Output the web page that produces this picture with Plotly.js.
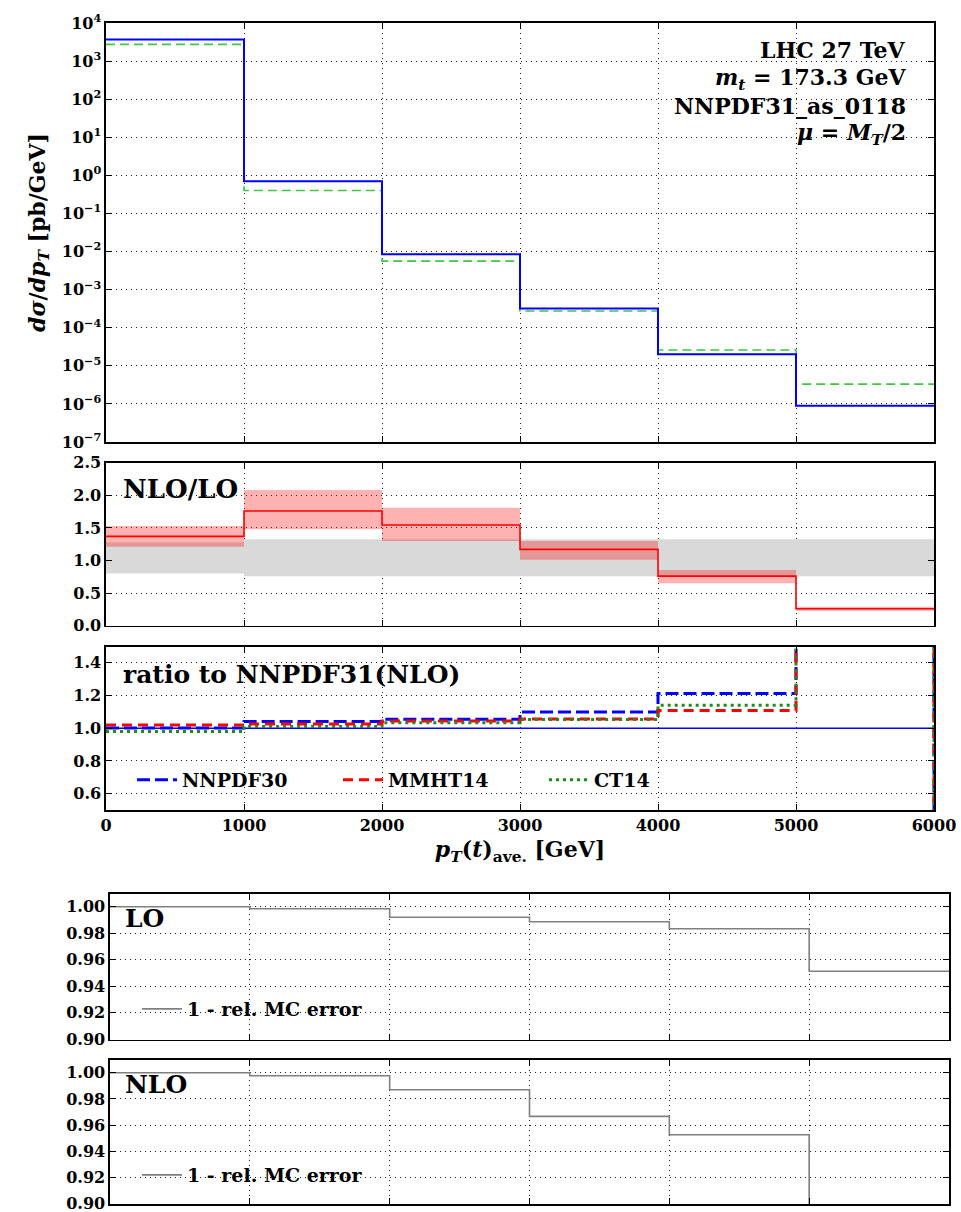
<!DOCTYPE html>
<html><head><meta charset="utf-8">
<script src="https://cdn.plot.ly/plotly-3.0.1.min.js"></script>
<style>
html,body{margin:0;padding:0;background:#fff}
#chart{width:961px;height:1212px;position:relative}
</style>
</head><body>
<div id="chart"></div>
<script>
// ---- data ----
const binEdges = [0, 1000, 2000, 3000, 4000, 5000, 6000];
const nloXsec = [3700, 0.70, 0.0085, 3.2e-4, 2.0e-5, 8.9e-7];
const loXsec = [2750, 0.40, 0.0056, 2.75e-4, 2.6e-5, 3.3e-6];
const kFactor = [1.37, 1.76, 1.545, 1.17, 0.76, 0.26];
const kFactorLow = [1.21, 1.48, 1.30, 1.01, 0.65, 0.23];
const kFactorHigh = [1.53, 2.08, 1.81, 1.30, 0.855, 0.29];
const loScaleLow = [0.80, 0.76, 0.76, 0.76, 0.76, 0.76];
const loScaleHigh = [1.28, 1.325, 1.325, 1.325, 1.325, 1.325];
const ratioNNPDF31 = [1.0, 1.0, 1.0, 1.0, 1.0, 1.0];
const ratioNNPDF30 = [1.002, 1.041, 1.055, 1.10, 1.213, 2.0];
const ratioMMHT14 = [1.02, 1.026, 1.045, 1.057, 1.108, 2.0];
const ratioCT14 = [0.98, 1.01, 1.033, 1.053, 1.141, 2.0];
const ratioEdgeEnd = 0.0;
const mcLO = [1.000, 0.9985, 0.992, 0.9887, 0.9834, 0.9514];
const mcNLO = [1.000, 0.9977, 0.987, 0.9667, 0.9527, 0.5];
const logTickExps = [-7, -6, -5, -4, -3, -2, -1, 0, 1, 2, 3, 4];
const xTickVals = [0, 1000, 2000, 3000, 4000, 5000, 6000];
const xTickText = ['0', '1000', '2000', '3000', '4000', '5000', '6000'];
const kTickVals = [0.0, 0.5, 1.0, 1.5, 2.0, 2.5];
const ratioTickVals = [0.6, 0.8, 1.0, 1.2, 1.4];
const mcTickVals = [0.90, 0.92, 0.94, 0.96, 0.98, 1.00];
const infoLines = ['LHC 27 TeV', '<i>m<sub>t</sub></i> = 173.3 GeV', 'NNPDF31_as_0118', '<i>μ</i> = <i>M<sub>T</sub></i>/2'];

// ---- helpers ----
const W = 961, H = 1212;
const px = v => v / W;
const py = v => 1 - v / H;
const steps = (vals, endVal) => vals.concat([endVal === undefined ? vals[vals.length - 1] : endVal]);
const FONT = 'DejaVu Serif';

function stepTrace(vals, xa, ya, line, extra) {
  return Object.assign({
    x: binEdges, y: steps(vals), xaxis: xa, yaxis: ya, type: 'scatter', mode: 'lines',
    line: Object.assign({shape: 'hv'}, line), showlegend: false, hoverinfo: 'skip'
  }, extra || {});
}

const traces = [
  stepTrace(loXsec, 'x', 'y', {color: '#3fc73f', width: 1.6, dash: '9px,5px'}),
  stepTrace(nloXsec, 'x', 'y', {color: '#0000ff', width: 2}),
  stepTrace(loScaleLow, 'x2', 'y2', {width: 0, color: 'rgba(0,0,0,0)'}),
  stepTrace(loScaleHigh, 'x2', 'y2', {width: 0, color: 'rgba(0,0,0,0)'}, {fill: 'tonexty', fillcolor: 'rgb(217,217,217)'}),
  stepTrace(kFactorLow, 'x2', 'y2', {width: 0, color: 'rgba(0,0,0,0)'}),
  stepTrace(kFactorHigh, 'x2', 'y2', {width: 0, color: 'rgba(0,0,0,0)'}, {fill: 'tonexty', fillcolor: 'rgba(255,0,0,0.3)'}),
  stepTrace(kFactor, 'x2', 'y2', {color: '#ff0000', width: 1.6}),
  stepTrace(ratioNNPDF31, 'x3', 'y3', {color: '#0000ff', width: 1.5}),
  Object.assign(stepTrace(ratioNNPDF30, 'x3', 'y3', {color: '#0000ff', width: 3, dash: '13px,5px'}),
    {y: steps(ratioNNPDF30, ratioEdgeEnd), name: 'NNPDF30', showlegend: true, legend: 'legend'}),
  Object.assign(stepTrace(ratioMMHT14, 'x3', 'y3', {color: '#ff0000', width: 3, dash: '10px,6px'}),
    {y: steps(ratioMMHT14, ratioEdgeEnd), name: 'MMHT14', showlegend: true, legend: 'legend'}),
  Object.assign(stepTrace(ratioCT14, 'x3', 'y3', {color: '#1e8c1e', width: 3, dash: '3px,4px'}),
    {y: steps(ratioCT14, ratioEdgeEnd), name: 'CT14', showlegend: true, legend: 'legend'}),
  stepTrace(mcLO, 'x4', 'y4', {color: '#808080', width: 1.6}, {name: '1 - rel. MC error', showlegend: true, legend: 'legend2'}),
  stepTrace(mcNLO, 'x5', 'y5', {color: '#808080', width: 1.6}, {name: '1 - rel. MC error', showlegend: true, legend: 'legend3'})
];

const gridBase = {
  showgrid: true, gridcolor: '#222', gridwidth: 1, griddash: '1px,4px',
  showline: true, linecolor: '#000', linewidth: 1.6, mirror: 'allticks',
  ticks: 'inside', ticklen: 6, tickwidth: 1, tickcolor: '#000', zeroline: false,
  ticklabeloverflow: 'allow',
  tickfont: {family: FONT, size: 16, color: '#000', weight: 'bold'}, fixedrange: true
};
const xMain = [px(106), px(934)];
const xBottom = [px(110), px(949)];
function xAx(domain, anchor, labels) {
  return Object.assign({}, gridBase, {domain: domain, anchor: anchor, range: [0, 6000],
    tickmode: 'array', tickvals: xTickVals, ticktext: xTickText, showticklabels: labels});
}

const layout = {
  width: W, height: H, margin: {l: 0, r: 0, t: 0, b: 0},
  paper_bgcolor: '#fff', plot_bgcolor: '#fff',
  font: {family: FONT, size: 16, color: '#000', weight: 'bold'},
  xaxis: xAx(xMain, 'y', false),
  yaxis: Object.assign({}, gridBase, {domain: [py(442), py(23)], anchor: 'x', type: 'log', range: [-7, 4],
    tickmode: 'array', tickvals: logTickExps.map(e => Math.pow(10, e)),
    ticktext: logTickExps.map(e => '10<sup>' + (e < 0 ? '\u2212' : '') + Math.abs(e) + '</sup>'),
    title: {text: '<i>dσ</i>/<i>dp<sub>T</sub></i> [pb/GeV]', font: {family: FONT, size: 22, weight: 'bold'}, standoff: 10}}),
  xaxis2: xAx(xMain, 'y2', false),
  yaxis2: Object.assign({}, gridBase, {domain: [py(625.7), py(462.7)], anchor: 'x2', range: [0, 2.5],
    tickmode: 'array', tickvals: kTickVals, tickformat: '.1f'}),
  xaxis3: Object.assign(xAx(xMain, 'y3', true), {
    title: {text: '<i>p<sub>T</sub></i>(<i>t</i>)<sub>ave.</sub> [GeV]', font: {family: FONT, size: 22, weight: 'bold'}, standoff: 8}}),
  yaxis3: Object.assign({}, gridBase, {domain: [py(810), py(646.5)], anchor: 'x3', range: [0.5, 1.5], tickmode: 'array',
    tickvals: ratioTickVals, tickformat: '.1f'}),
  xaxis4: xAx(xBottom, 'y4', false),
  yaxis4: Object.assign({}, gridBase, {domain: [py(1039.5), py(893.7)], anchor: 'x4', range: [0.8999, 1.0098],
    tickmode: 'array', tickvals: mcTickVals, tickformat: '.2f'}),
  xaxis5: xAx(xBottom, 'y5', false),
  yaxis5: Object.assign({}, gridBase, {domain: [py(1204), py(1060)], anchor: 'x5', range: [0.8999, 1.0097],
    tickmode: 'array', tickvals: mcTickVals, tickformat: '.2f'}),
  legend: {orientation: 'h', traceorder: 'normal', x: px(132), y: py(780), xanchor: 'left', yanchor: 'middle', bgcolor: 'rgba(0,0,0,0)',
    font: {family: FONT, size: 19, weight: 'bold'}, entrywidth: 151, entrywidthmode: 'pixels', itemwidth: 40},
  legend2: {x: px(137), y: py(1009), xanchor: 'left', yanchor: 'middle', bgcolor: 'rgba(0,0,0,0)',
    font: {family: FONT, size: 19, weight: 'bold'}, itemwidth: 40},
  legend3: {x: px(137), y: py(1175), xanchor: 'left', yanchor: 'middle', bgcolor: 'rgba(0,0,0,0)',
    font: {family: FONT, size: 19, weight: 'bold'}, itemwidth: 40},
  annotations: [
    ...infoLines.map((t, i) => ({text: t, xref: 'paper', yref: 'paper', x: px(908), y: py([50, 79, 106, 134][i]),
      xanchor: 'right', yanchor: 'middle', showarrow: false, font: {family: FONT, size: 22, weight: 'bold'}})),
    {text: 'NLO/LO', xref: 'paper', yref: 'paper', x: px(121), y: py(489), xanchor: 'left', yanchor: 'middle', showarrow: false,
      font: {family: FONT, size: 26, weight: 'bold'}},
    {text: 'ratio to NNPDF31(NLO)', xref: 'paper', yref: 'paper', x: px(121), y: py(674), xanchor: 'left', yanchor: 'middle', showarrow: false,
      font: {family: FONT, size: 25, weight: 'bold'}},
    {text: 'LO', xref: 'paper', yref: 'paper', x: px(123), y: py(918), xanchor: 'left', yanchor: 'middle', showarrow: false,
      font: {family: FONT, size: 25, weight: 'bold'}},
    {text: 'NLO', xref: 'paper', yref: 'paper', x: px(123), y: py(1084), xanchor: 'left', yanchor: 'middle', showarrow: false,
      font: {family: FONT, size: 25, weight: 'bold'}}
  ]
};

Plotly.newPlot('chart', traces, layout, {staticPlot: true, displayModeBar: false});
</script>
</body></html>
